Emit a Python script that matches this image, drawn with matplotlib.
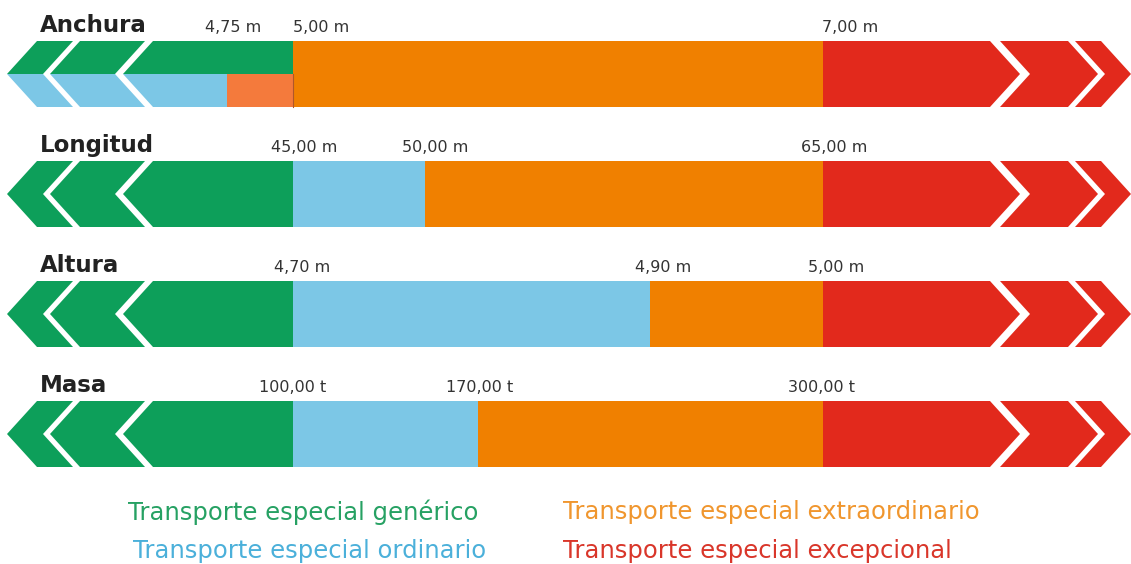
import matplotlib.pyplot as plt
from matplotlib.patches import Polygon

# Data
rows = ['Anchura', 'Longitud', 'Altura', 'Masa']
limits = [
    ['4,75 m', '5,00 m', '7,00 m'],
    ['45,00 m', '50,00 m', '65,00 m'],
    ['4,70 m', '4,90 m', '5,00 m'],
    ['100,00 t', '170,00 t', '300,00 t'],
]
categories = ['Transporte especial genérico', 'Transporte especial ordinario',
              'Transporte especial extraordinario', 'Transporte especial excepcional']

# schematic layout (pixel units of the canvas)
bounds = [
    [227, 293, 823],
    [293, 425, 823],
    [293, 650, 823],
    [293, 478, 823],
]
label_shift = [[6, 28, 27], [11, 10, 11], [9, 13, 13], [0, 2, -1]]
row_top = [41, 161, 281, 401]
row_h = 66
d = 30

green = '#0d9f5a'
blue = '#7cc7e6'
orange = '#f08000'
red = '#e2291c'
salmon = '#f47a3c'
text_cols = ['#26a163', '#4bb0da', '#f0962e', '#d9362a']

fig = plt.figure(figsize=(11.31, 5.64), dpi=100)
ax = fig.add_axes([0, 0, 1, 1])
ax.set_xlim(0, 1131)
ax.set_ylim(564, 0)
ax.axis('off')


def half(x_l, x_r, top, mid, bot, upper, col, right_flat=False):
    # one half (upper or lower) of a left-pointing chevron piece
    yo = top if upper else bot
    xr_o = x_r if right_flat else x_r + d
    pts = [(x_l, mid), (x_l + d, yo), (xr_o, yo), (x_r, mid)]
    ax.add_patch(Polygon(pts, closed=True, facecolor=col, edgecolor='none'))


def half_right(x_l, x_r, top, mid, bot, upper, col, left_flat=False):
    # right-pointing pieces: tip at x_r on mid line
    yo = top if upper else bot
    xl_o = x_l if left_flat else x_l - d
    pts = [(x_l, mid), (xl_o, yo), (x_r - d, yo), (x_r, mid)]
    ax.add_patch(Polygon(pts, closed=True, facecolor=col, edgecolor='none'))


left_pieces = [(7, 43), (50, 115), (123, None)]
right_pieces = [(None, 1020), (1030, 1098), (1105, 1131)]

for i, name in enumerate(rows):
    top = row_top[i]
    bot = top + row_h
    mid = (top + bot) / 2
    b = bounds[i]
    g_end = b[0] if i > 0 else b[1]
    for upper in (True, False):
        col = green
        if i == 0 and not upper:
            col = blue
        for xl, xr in left_pieces:
            if xr is None:
                half(xl, g_end, top, mid, bot, upper, col, right_flat=True)
            else:
                half(xl, xr, top, mid, bot, upper, col)
        for xl, xr in right_pieces:
            if xl is None:
                half_right(b[2], xr, top, mid, bot, upper, red, left_flat=True)
            else:
                half_right(xl, xr, top, mid, bot, upper, red)
    if i == 0:
        ax.add_patch(plt.Rectangle((b[0], mid), b[1] - b[0], row_h / 2, facecolor=salmon, edgecolor='none'))
        ax.add_patch(plt.Rectangle((b[1], top), b[2] - b[1], row_h, facecolor=orange, edgecolor='none'))
        ax.plot([b[1], b[1]], [mid, bot], color='#b0562a', lw=0.8)
    else:
        ax.add_patch(plt.Rectangle((b[0], top), b[1] - b[0], row_h, facecolor=blue, edgecolor='none'))
        ax.add_patch(plt.Rectangle((b[1], top), b[2] - b[1], row_h, facecolor=orange, edgecolor='none'))

    ax.text(40, top - 9, name, fontsize=16.5, fontweight='bold', color='#222222', va='baseline')
    for j, lab in enumerate(limits[i]):
        ax.text(b[j] + label_shift[i][j], top - 9, lab, fontsize=11.5, color='#333333',
                ha='center', va='baseline')

# legend texts
leg_pos = [(128, 512), (133, 551), (563, 512), (563, 551)]
for (x, y), txt, c in zip(leg_pos, categories, text_cols):
    ax.text(x, y, txt, fontsize=17.5, color=c, va='center', ha='left')

fig.savefig('out.png', dpi=100)
